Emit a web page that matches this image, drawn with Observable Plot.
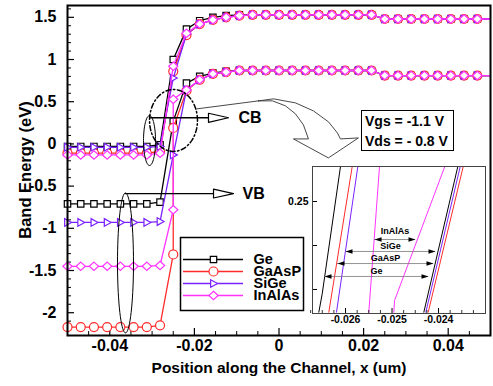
<!DOCTYPE html>
<html><head><meta charset="utf-8">
<script src="https://cdn.jsdelivr.net/npm/d3@7"></script>
<script src="https://cdn.jsdelivr.net/npm/@observablehq/plot@0.6"></script>
<style>
body{margin:0;background:#fff;}
#wrap{position:relative;width:493px;height:386px;overflow:hidden;font-family:"Liberation Sans",Arial,sans-serif;}
#wrap > div{position:absolute;}
#vbox{left:361px;top:110px;width:88px;height:39px;border:1.5px solid #000;background:#fff;font-weight:bold;font-size:14px;padding:0 0 0 3px;}
#vbox div{height:20px;line-height:20px;}
#ytitle{left:-75.5px;top:160px;width:200px;height:20px;line-height:20px;text-align:center;font-weight:bold;font-size:16.5px;transform:rotate(-90deg);}
</style></head><body><div id="wrap"></div>
<script>
// ---------------- data ----------------
const materials = ["Ge", "GaAsP", "SiGe", "InAlAs"];
const colors = ["#000000", "#ff2b2b", "#7a22ff", "#ff33ff"];

const xPos = [-0.05, -0.046875, -0.04375, -0.040625, -0.0375, -0.034375, -0.03125, -0.028125,
  -0.025, -0.021875, -0.01875, -0.015625, -0.0125, -0.009375, -0.00625, -0.003125, 0,
  0.003125, 0.00625, 0.009375, 0.0125, 0.015625, 0.01875, 0.021875, 0.025, 0.028125,
  0.03125, 0.034375, 0.0375, 0.040625, 0.04375, 0.046875, 0.05];

// conduction band (eV)
const cbGe =     [-0.03,-0.03,-0.03,-0.03,-0.03,-0.03,-0.03,-0.01, 1.00,1.36,1.46,1.50,1.52,1.53,1.53,1.53,1.53,1.53,1.53,1.53,1.53,1.53,1.53,1.53,1.48,1.48,1.48,1.48,1.48,1.48,1.48,1.48,1.48];
const cbGaAsP =  [-0.11,-0.11,-0.11,-0.11,-0.11,-0.11,-0.11,-0.09, 0.86,1.29,1.42,1.47,1.50,1.52,1.53,1.53,1.53,1.53,1.53,1.53,1.53,1.53,1.53,1.53,1.48,1.48,1.48,1.48,1.48,1.48,1.48,1.48,1.48];
const cbSiGe =   [-0.04,-0.04,-0.04,-0.04,-0.04,-0.04,-0.04,-0.03, 0.78,1.30,1.42,1.47,1.50,1.52,1.53,1.53,1.53,1.53,1.53,1.53,1.53,1.53,1.53,1.53,1.48,1.48,1.48,1.48,1.48,1.48,1.48,1.48,1.48];
const cbInAlAs = [-0.13,-0.13,-0.13,-0.13,-0.13,-0.13,-0.13,-0.11, 0.92,1.31,1.42,1.47,1.50,1.52,1.53,1.53,1.53,1.53,1.53,1.53,1.53,1.53,1.53,1.53,1.48,1.48,1.48,1.48,1.48,1.48,1.48,1.48,1.48];
// valence band (eV)
const vbGe =     [-0.71,-0.71,-0.71,-0.71,-0.71,-0.71,-0.71,-0.69, 0.27,0.72,0.80,0.84,0.86,0.87,0.87,0.87,0.87,0.87,0.87,0.87,0.87,0.87,0.87,0.87,0.81,0.81,0.81,0.81,0.81,0.81,0.81,0.81,0.81];
const vbGaAsP =  [-2.17,-2.17,-2.17,-2.17,-2.17,-2.17,-2.17,-2.15,-1.31,0.63,0.76,0.83,0.85,0.87,0.87,0.87,0.87,0.87,0.87,0.87,0.87,0.87,0.87,0.87,0.81,0.81,0.81,0.81,0.81,0.81,0.81,0.81,0.81];
const vbSiGe =   [-0.93,-0.93,-0.93,-0.93,-0.93,-0.93,-0.93,-0.92,-0.13,0.64,0.76,0.83,0.85,0.87,0.87,0.87,0.87,0.87,0.87,0.87,0.87,0.87,0.87,0.87,0.81,0.81,0.81,0.81,0.81,0.81,0.81,0.81,0.81];
const vbInAlAs = [-1.45,-1.45,-1.45,-1.45,-1.45,-1.45,-1.45,-1.44,-0.78,0.64,0.76,0.83,0.85,0.87,0.87,0.87,0.87,0.87,0.87,0.87,0.87,0.87,0.87,0.87,0.81,0.81,0.81,0.81,0.81,0.81,0.81,0.81,0.81];
// second valence-band value at the hetero-interface x = -0.025 um (band jump), null if none
const vbJump = [null, 0.19, null, 0.53];

// axis ticks
const xTicks = [-0.04, -0.02, 0, 0.02, 0.04];
const xTickLabels = ["-0.04", "-0.02", "0", "0.02", "0.04"];
const xMinor = [-0.045, -0.035, -0.03, -0.025, -0.015, -0.01, -0.005, 0.005, 0.01, 0.015, 0.025, 0.03, 0.035, 0.045];
const yTicks = [-2, -1.5, -1, -0.5, 0, 0.5, 1, 1.5];
const yTickLabels = ["-2", "-1.5", "-1", "-0.5", "0", "0.5", "1", "1.5"];
const yMinor = [-2.2,-2.1,-1.9,-1.8,-1.7,-1.6,-1.4,-1.3,-1.2,-1.1,-0.9,-0.8,-0.7,-0.6,-0.4,-0.3,-0.2,-0.1,0.1,0.2,0.3,0.4,0.6,0.7,0.8,0.9,1.1,1.2,1.3,1.4,1.6];

// inset (zoom near x = -0.025 um): line points
const insetCB = {
  Ge:     [[-0.026574, 0.1242], [-0.026501, 0.1451], [-0.026108, 0.2898]],
  GaAsP:  [[-0.026359, 0.1242], [-0.025856, 0.2898]],
  SiGe:   [[-0.026194, 0.1242], [-0.025735, 0.2898]],
  InAlAs: [[-0.025499, 0.1242], [-0.025269, 0.2898]]
};
const insetVB = {
  Ge:     [[-0.024316, 0.1242], [-0.023585, 0.2898]],
  GaAsP:  [[-0.024222, 0.1242], [-0.023469, 0.2898]],
  SiGe:   [[-0.024273, 0.1242], [-0.023533, 0.2898]],
  InAlAs: [[-0.024961, 0.1242], [-0.024946, 0.1375], [-0.023865, 0.2898]]
};
// gap arrows inside the inset: [label, y, xLeft, xRight, labelY]
const insetGaps = [
  ["InAlAs", 0.2068, -0.025376, -0.024495, 0.2159],
  ["SiGe",   0.1932, -0.026000, -0.024065, 0.1989],
  ["GaAsP",  0.1795, -0.026172, -0.024108, 0.1852],
  ["Ge",     0.1648, -0.026452, -0.024215, 0.1705]
];
const insetXTicks = [-0.026, -0.025, -0.024];
const insetXLabels = ["-0.026", "-0.025", "-0.024"];
const insetXMinor = [-0.02675, -0.0265, -0.02625, -0.02575, -0.0255, -0.02525, -0.02475, -0.0245, -0.02425, -0.02375, -0.0235, -0.02325];
const insetYTicks = [0.15, 0.2, 0.25];
const insetYLabels = ["", "", "0.25"];

// annotations (data coordinates of the main chart)
const cbArrowLine = [[-0.03038, 0.31], [-0.01667, 0.31]];
const cbArrowHead = [[-0.01667, 0.363], [-0.01194, 0.31], [-0.01667, 0.256]];
const cbLabel = {x: -0.00957, y: 0.31, text: "CB"};
const vbArrowLine = [[-0.03629, -0.588], [-0.01548, -0.588]];
const vbArrowHead = [[-0.01548, -0.535], [-0.01076, -0.588], [-0.01548, -0.641]];
const vbLabel = {x: -0.00863, y: -0.588, text: "VB"};
// ellipses: [cx, cy, rx, ry]
const dashEllipse = [-0.02494, 0.278, 0.00567, 0.367];
const cbEllipse = [-0.03061, 0.040, 0.00142, 0.296];
const vbEllipse = [-0.03629, -1.41, 0.00189, 0.829];
const pointerLine = [[-0.01947, 0.415], [-0.00484, 0.510]];
const bigArrow = [[-0.00484, 0.510], [-0.0013, 0.534], [0.0039, 0.486], [0.00815, 0.391], [0.0117, 0.261],
  [0.01381, 0.130], [0.01452, 0.059], [0.01877, 0.071], [0.01168, -0.166], [0.00342, 0.059], [0.00696, 0.059],
  [0.00578, 0.225], [0.0039, 0.356], [0.00153, 0.451], [-0.00153, 0.510], [-0.00484, 0.510]];

// ---------------- helpers ----------------
const cbSeries = [cbGe, cbGaAsP, cbSiGe, cbInAlAs];
const vbSeries = [vbGe, vbGaAsP, vbSiGe, vbInAlAs];
const symSquare = {draw(c, s) { const r = Math.sqrt(s / Math.PI); c.rect(-r, -r, 2 * r, 2 * r); }};
const symCircle = {draw(c, s) { const r = Math.sqrt(s / Math.PI); c.moveTo(r, 0); c.arc(0, 0, r, 0, 2 * Math.PI); }};
const symTriRight = {draw(c, s) { const r = Math.sqrt(s / Math.PI); c.moveTo(r * 1.05, 0); c.lineTo(-r * 0.75, -r); c.lineTo(-r * 0.75, r); c.closePath(); }};
const symDiamond = {draw(c, s) { const r = Math.sqrt(s / Math.PI); c.moveTo(0, -r); c.lineTo(r * 1.1, 0); c.lineTo(0, r); c.lineTo(-r * 1.1, 0); c.closePath(); }};
const symbols = [symSquare, symCircle, symTriRight, symDiamond];
const symR = [3.2, 4.5, 3.8, 4.2];
const headLeft = {draw(c) { c.moveTo(0, 0); c.lineTo(7, -2.2); c.lineTo(7, 2.2); c.closePath(); }};
const headRight = {draw(c) { c.moveTo(0, 0); c.lineTo(-7, -2.2); c.lineTo(-7, 2.2); c.closePath(); }};

function ellipsePts([cx, cy, rx, ry]) {
  const pts = [];
  for (let i = 0; i <= 72; i++) { const t = i / 72 * 2 * Math.PI; pts.push([cx + rx * Math.cos(t), cy + ry * Math.sin(t)]); }
  return pts;
}

const font = '"Liberation Sans", Arial, sans-serif';
const W = 493, H = 386, mL = 67, mR = 3, mT = 5, mB = 51;
const plotW = W - mL - mR, plotH = H - mT - mB;

const seriesMarks = [];
materials.forEach((m, i) => {
  [cbSeries[i], vbSeries[i]].forEach((band, b) => {
    const rows = [];
    xPos.forEach((x, k) => {
      rows.push({x, y: band[k]});
      if (b === 1 && k === 8 && vbJump[i] !== null) rows.push({x, y: vbJump[i]});
    });
    seriesMarks.push(Plot.line(rows, {x: "x", y: "y", stroke: colors[i], strokeWidth: 1.3}));
    seriesMarks.push(Plot.dot(rows.filter(d => d.x < 0.049), {x: "x", y: "y", symbol: symbols[i], r: symR[i], stroke: colors[i], fill: "white", strokeWidth: 1.2}));
  });
});

const main = Plot.plot({
  width: W, height: H, marginLeft: mL, marginRight: mR, marginTop: mT, marginBottom: mB,
  x: {domain: [-0.05, 0.05], axis: null},
  y: {domain: [-2.27, 1.64], axis: null},
  style: {fontFamily: font, background: "white", overflow: "visible"},
  marks: [
    Plot.tickY(yTicks, {y: d => d, insetRight: plotW - 7, stroke: "#000", strokeWidth: 1.2}),
    Plot.tickY(yMinor, {y: d => d, insetRight: plotW - 4, stroke: "#000", strokeWidth: 1}),
    Plot.tickX(xTicks, {x: d => d, insetTop: plotH - 7, stroke: "#000", strokeWidth: 1.2}),
    Plot.tickX(xMinor, {x: d => d, insetTop: plotH - 4, stroke: "#000", strokeWidth: 1}),
    Plot.text(xTicks, {x: d => d, text: (d, i) => xTickLabels[i], frameAnchor: "bottom", dy: 15, fontSize: 16, fontWeight: "bold", fill: "#000"}),
    Plot.text(yTicks, {y: d => d, text: (d, i) => yTickLabels[i], frameAnchor: "left", textAnchor: "end", dx: -11, fontSize: 16, fontWeight: "bold", fill: "#000"}),
    Plot.text(["Position along the Channel, x (um)"], {frameAnchor: "bottom", dy: 37, fontSize: 15.5, fontWeight: "bold", fill: "#000"}),
    ...seriesMarks,
    // annotations
    Plot.line(ellipsePts(dashEllipse), {x: d => d[0], y: d => d[1], stroke: "#000", strokeWidth: 1.5, strokeDasharray: "5,2.5,1.5,2.5"}),
    Plot.line(ellipsePts(cbEllipse), {x: d => d[0], y: d => d[1], stroke: "#000", strokeWidth: 1}),
    Plot.line(ellipsePts(vbEllipse), {x: d => d[0], y: d => d[1], stroke: "#000", strokeWidth: 1}),
    Plot.line(cbArrowLine, {x: d => d[0], y: d => d[1], stroke: "#000", strokeWidth: 1.3}),
    Plot.line(cbArrowHead, {x: d => d[0], y: d => d[1], stroke: "#000", strokeWidth: 1.2, fill: "white", curve: "linear-closed"}),
    Plot.line(vbArrowLine, {x: d => d[0], y: d => d[1], stroke: "#000", strokeWidth: 1.3}),
    Plot.line(vbArrowHead, {x: d => d[0], y: d => d[1], stroke: "#000", strokeWidth: 1.2, fill: "white", curve: "linear-closed"}),
    Plot.text([cbLabel], {x: "x", y: "y", text: "text", textAnchor: "start", fontSize: 16, fontWeight: "bold", fill: "#000", style: "letter-spacing:2px"}),
    Plot.text([vbLabel], {x: "x", y: "y", text: "text", textAnchor: "start", fontSize: 16, fontWeight: "bold", fill: "#000"}),
    Plot.line(pointerLine, {x: d => d[0], y: d => d[1], stroke: "#333", strokeWidth: 0.9}),
    Plot.line(bigArrow, {x: d => d[0], y: d => d[1], stroke: "#333", strokeWidth: 0.9, fill: "white", curve: "linear-closed"}),
    Plot.frame({stroke: "#000", strokeWidth: 2})
  ]
});

// inset chart
const iL = 30, iT = 2, iR = 2, iB = 18, iW = 173, iH = 147;
const insetMarks = [Plot.frame({fill: "white", stroke: "none"})];
materials.forEach((m, i) => {
  insetMarks.push(Plot.line(insetCB[m], {x: d => d[0], y: d => d[1], stroke: colors[i], strokeWidth: 1, clip: true}));
  insetMarks.push(Plot.line(insetVB[m], {x: d => d[0], y: d => d[1], stroke: colors[i], strokeWidth: 1, clip: true}));
});
insetMarks.push(
  Plot.ruleY(insetGaps, {y: d => d[1], x1: d => d[2], x2: d => d[3], stroke: "#777", strokeWidth: 0.8}),
  Plot.dot(insetGaps, {x: d => d[2], y: d => d[1], symbol: headLeft, fill: "#000", stroke: "none"}),
  Plot.dot(insetGaps, {x: d => d[3], y: d => d[1], symbol: headRight, fill: "#000", stroke: "none"}),
  Plot.text(insetGaps, {x: d => (d[2] + d[3]) / 2, y: d => d[4], text: d => d[0], fontSize: 9, fontWeight: "bold", fill: "#000"}),
  Plot.tickY(insetYTicks, {y: d => d, insetRight: iW - 5, stroke: "#000", strokeWidth: 1}),
  Plot.tickX(insetXTicks, {x: d => d, insetTop: iH - 5, stroke: "#000", strokeWidth: 1}),
  Plot.tickX(insetXMinor, {x: d => d, insetTop: iH - 3, stroke: "#000", strokeWidth: 0.8}),
  Plot.text(insetXTicks, {x: d => d, text: (d, i) => insetXLabels[i], frameAnchor: "bottom", dy: 9, fontSize: 10.5, fontWeight: "bold", fill: "#000"}),
  Plot.text(insetYTicks, {y: d => d, text: (d, i) => insetYLabels[i], frameAnchor: "left", textAnchor: "end", dx: -4, fontSize: 10.5, fontWeight: "bold", fill: "#000"}),
  Plot.frame({stroke: "#444", strokeWidth: 1})
);
const inset = Plot.plot({
  width: iW + iL + iR, height: iH + iT + iB, marginLeft: iL, marginTop: iT, marginRight: iR, marginBottom: iB,
  x: {domain: [-0.02671, -0.02299], axis: null},
  y: {domain: [0.1227, 0.2898], axis: null},
  style: {fontFamily: font, background: "transparent", overflow: "visible"},
  marks: insetMarks
});

// legend chart
const legendMarks = [Plot.frame({fill: "white", stroke: "#000", strokeWidth: 1.5})];
materials.forEach((m, i) => {
  legendMarks.push(
    Plot.ruleY([m], {y: d => d, x1: 3, x2: 63, stroke: colors[i], strokeWidth: 1.3}),
    Plot.dot([m], {x: 33, y: d => d, symbol: symbols[i], r: symR[i], stroke: colors[i], fill: "white", strokeWidth: 1.2}),
    Plot.text([m], {x: 73, y: d => d, text: d => d, textAnchor: "start", fontSize: 14.5, fontWeight: "bold", fill: "#000"})
  );
});
const legend = Plot.plot({
  width: 123, height: 73, margin: 0,
  x: {domain: [0, 123], range: [0, 123], axis: null},
  y: {type: "point", domain: materials, range: [14.5, 64.5], axis: null},
  style: {fontFamily: font, background: "transparent", overflow: "visible"},
  marks: legendMarks
});

const wrap = document.getElementById("wrap");
const d0 = document.createElement("div"); d0.style.left = "0px"; d0.style.top = "0px"; d0.appendChild(main); wrap.appendChild(d0);
const d1 = document.createElement("div"); d1.style.left = (312 - iL) + "px"; d1.style.top = (166 - iT) + "px"; d1.appendChild(inset); wrap.appendChild(d1);
const d2 = document.createElement("div"); d2.style.left = "180px"; d2.style.top = "237px"; d2.appendChild(legend); wrap.appendChild(d2);
const vb = document.createElement("div"); vb.id = "vbox";
vb.innerHTML = "<div>Vgs = -1.1 V</div><div>Vds = - 0.8 V</div>";
wrap.appendChild(vb);
const yt = document.createElement("div"); yt.id = "ytitle"; yt.textContent = "Band Energy (eV)"; wrap.appendChild(yt);
</script></body></html>
